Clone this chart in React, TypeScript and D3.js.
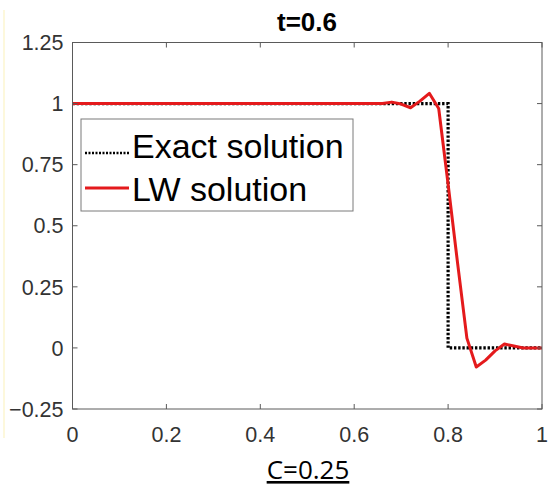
import React from 'react';
import * as d3 from 'd3';

// Exact solution (step) and Lax-Wendroff solution at t=0.6
const exactX = [0, 0.8, 0.8, 1];
const exactY = [1, 1, 0, 0];

const lwX = [0, 0.64, 0.66, 0.68, 0.7, 0.72, 0.74, 0.76, 0.78, 0.8, 0.82, 0.84, 0.86, 0.88, 0.9, 0.92, 0.94, 0.96, 0.98, 1];
const lwY = [1, 1, 1.0, 1.006, 0.998, 0.983, 1.01, 1.042, 0.98, 0.67, 0.35, 0.04, -0.078, -0.05, -0.012, 0.016, 0.008, 0.0, 0.0, 0.0];

const xTicks = [0, 0.2, 0.4, 0.6, 0.8, 1];
const yTicks = [-0.25, 0, 0.25, 0.5, 0.75, 1, 1.25];
const legendLabels = ['Exact solution', 'LW solution'];

const App = () => {
  const width = 550, height = 488;
  const left = 72.5, right = 542, top = 42.5, bottom = 409;

  const x = d3.scaleLinear().domain([0, 1]).range([left, right]);
  const y = d3.scaleLinear().domain([-0.25, 1.25]).range([bottom, top]);

  const line = d3.line<[number, number]>()
    .x((d) => x(d[0]))
    .y((d) => y(d[1]));

  const exactPts = exactX.map((v, i) => [v, exactY[i]] as [number, number]);
  const lwPts = lwX.map((v, i) => [v, lwY[i]] as [number, number]);

  const axisColor = '#5a5a5a';
  const textColor = '#333';
  const font = '"Liberation Sans", Arial, sans-serif';
  const tick = 5;

  return (
    <svg width={width} height={height} style={{ position: 'absolute', left: 0, top: 0, background: '#fff' }}>
      <rect x={3} y={10} width={2} height={428} fill="#fdf8dc" />

      {/* data */}
      <path d={line(exactPts) || ''} fill="none" stroke="#000" strokeWidth={3.2} strokeDasharray="2.4,1.8" />
      <path d={line(lwPts) || ''} fill="none" stroke="#e41a1c" strokeWidth={3} strokeLinejoin="round" />

      {/* axes box */}
      <rect x={left} y={top} width={right - left} height={bottom - top} fill="none" stroke={axisColor} strokeWidth={1} />
      {xTicks.map((t) => (
        <g key={'x' + t}>
          <line x1={x(t)} x2={x(t)} y1={bottom} y2={bottom - tick} stroke={axisColor} />
          <line x1={x(t)} x2={x(t)} y1={top} y2={top + tick} stroke={axisColor} />
          <text x={x(t)} y={442} textAnchor="middle" fontFamily={font} fontSize={21.5} fill={textColor}>{d3.format('~g')(t)}</text>
        </g>
      ))}
      {yTicks.map((t) => (
        <g key={'y' + t}>
          <line x1={left} x2={left + tick} y1={y(t)} y2={y(t)} stroke={axisColor} />
          <line x1={right} x2={right - tick} y1={y(t)} y2={y(t)} stroke={axisColor} />
          <text x={63.5} y={y(t)} dy="0.36em" textAnchor="end" fontFamily={font} fontSize={21.5} fill={textColor}>{d3.format('~g')(t)}</text>
        </g>
      ))}

      {/* title */}
      <text x={307} y={31} textAnchor="middle" fontFamily={font} fontWeight="bold" fontSize={26} fill="#000">t=0.6</text>

      {/* legend */}
      <rect x={81} y={119} width={272} height={92} fill="#fff" stroke="#7a7a7a" strokeWidth={1} />
      <line x1={85} x2={129} y1={153} y2={153} stroke="#000" strokeWidth={2.5} strokeDasharray="2,1.5" />
      <line x1={85} x2={129} y1={188} y2={188} stroke="#e41a1c" strokeWidth={3} />
      <text x={132} y={158} fontFamily={font} fontSize={34} fill="#000">{legendLabels[0]}</text>
      <text x={132} y={201} fontFamily={font} fontSize={34} fill="#000">{legendLabels[1]}</text>

      {/* caption */}
      <text x={308} y={479} textAnchor="middle" fontFamily={'"Open Sans", sans-serif'} fontSize={26} fill="#000" textDecoration="underline">C=0.25</text>
    </svg>
  );
};

export default App;
